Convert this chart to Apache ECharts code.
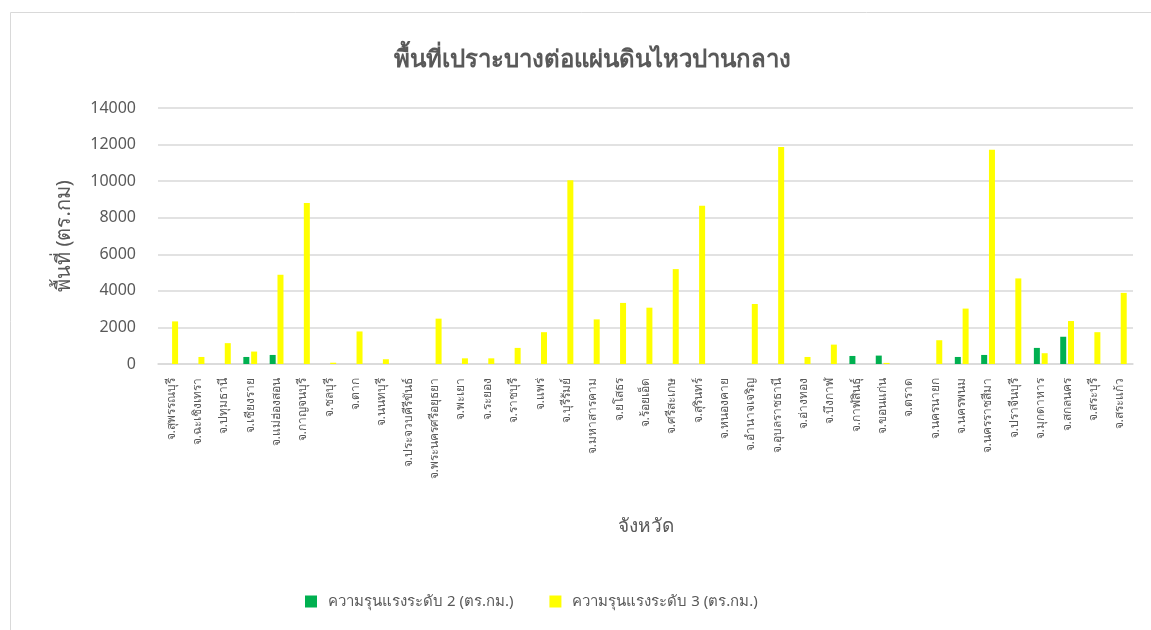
<!DOCTYPE html>
<html>
<head>
<meta charset="utf-8">
<script src="https://cdn.jsdelivr.net/npm/echarts@6/dist/echarts.min.js"></script>
<style>
  html, body { margin: 0; padding: 0; background: #fff; }
  #chart { width: 1151px; height: 630px; }
</style>
</head>
<body>
<div id="chart"></div>
<script>
// provinces (x axis)
const provinces = [
  "จ.สุพรรณบุรี", "จ.ฉะเชิงเทรา", "จ.ปทุมธานี", "จ.เชียงราย", "จ.แม่ฮ่องสอน",
  "จ.กาญจนบุรี", "จ.ชลบุรี", "จ.ตาก", "จ.นนทบุรี", "จ.ประจวบคีรีขันธ์",
  "จ.พระนครศรีอยุธยา", "จ.พะเยา", "จ.ระยอง", "จ.ราชบุรี", "จ.แพร่",
  "จ.บุรีรัมย์", "จ.มหาสารคาม", "จ.ยโสธร", "จ.ร้อยเอ็ด", "จ.ศรีสะเกษ",
  "จ.สุรินทร์", "จ.หนองคาย", "จ.อำนาจเจริญ", "จ.อุบลราชธานี", "จ.อ่างทอง",
  "จ.บึงกาฬ", "จ.กาฬสินธุ์", "จ.ขอนแก่น", "จ.ตราด", "จ.นครนายก",
  "จ.นครพนม", "จ.นครราชสีมา", "จ.ปราจีนบุรี", "จ.มุกดาหาร", "จ.สกลนคร",
  "จ.สระบุรี", "จ.สระแก้ว"
];

// severity level 2 (sq. km)
const level2 = [
  0, 0, 0, 385, 495,
  0, 0, 0, 0, 0,
  0, 0, 0, 0, 0,
  0, 0, 0, 0, 0,
  0, 0, 0, 0, 0,
  0, 440, 460, 0, 0,
  385, 495, 0, 880, 1490,
  0, 0
];

// severity level 3 (sq. km)
const level3 = [
  2330, 385, 1140, 680, 4880,
  8810, 70, 1780, 260, 0,
  2480, 310, 310, 880, 1740,
  10050, 2440, 3340, 3080, 5190,
  8660, 0, 3280, 11870, 385,
  1060, 0, 60, 0, 1300,
  3030, 11710, 4680, 590, 2350,
  1740, 3890
];

const seriesNames = ["ความรุนแรงระดับ 2 (ตร.กม.)", "ความรุนแรงระดับ 3 (ตร.กม.)"];
const yTicks = { min: 0, max: 14000, interval: 2000 };

const FONT = "'Noto Sans', 'DejaVu Sans', sans-serif";
const TEXT = "#595959";

const chart = echarts.init(document.getElementById("chart"), null, { renderer: "canvas" });

chart.setOption({
  animation: false,
  textStyle: { fontFamily: FONT },
  title: {
    text: "พื้นที่เปราะบางต่อแผ่นดินไหวปานกลาง",
    left: 587,
    top: 43,
    textAlign: "center",
    textStyle: { fontSize: 24, fontWeight: "bold", color: TEXT, fontFamily: FONT },
  },
  graphic: [
    {
      type: "rect",
      shape: { x: 10.5, y: 12.5, width: 1160, height: 640 },
      style: { fill: "none", stroke: "#d9d9d9", lineWidth: 1 },
      silent: true,
    },
  ],
  legend: {
    left: 300,
    top: 589,
    icon: "rect",
    itemWidth: 12,
    itemHeight: 12,
    itemGap: 36,
    textStyle: { fontSize: 15, color: TEXT, fontFamily: FONT, padding: [0, 0, 0, 6] },
    data: seriesNames,
  },
  grid: { left: 158, right: 18, top: 108, bottom: 266 },
  xAxis: {
    type: "category",
    data: provinces,
    name: "จังหวัด",
    nameLocation: "middle",
    nameGap: 153,
    nameTextStyle: { fontSize: 19, color: TEXT, fontFamily: FONT },
    axisLine: { lineStyle: { color: "#d9d9d9", width: 1.5 } },
    axisTick: { show: false },
    axisLabel: {
      rotate: 90,
      interval: 0,
      fontSize: 12,
      color: TEXT,
      margin: 14,
      fontFamily: FONT,
    },
  },
  yAxis: {
    type: "value",
    min: yTicks.min,
    max: yTicks.max,
    interval: yTicks.interval,
    name: "พื้นที่ (ตร.กม)",
    nameLocation: "middle",
    nameGap: 84,
    nameTextStyle: { fontSize: 20, color: TEXT, fontFamily: FONT },
    axisLine: { show: false },
    axisTick: { show: false },
    axisLabel: {
      fontSize: 16,
      color: TEXT,
      margin: 22,
      fontFamily: FONT,
      formatter: (v) => String(v),
    },
    splitLine: { lineStyle: { color: "#d9d9d9", width: 1.5 } },
  },
  series: [
    {
      name: seriesNames[0],
      type: "bar",
      data: level2,
      barWidth: 6,
      barGap: "30%",
      itemStyle: { color: "#00B050" },
    },
    {
      name: seriesNames[1],
      type: "bar",
      data: level3,
      barWidth: 6,
      itemStyle: { color: "#FFFF00" },
    },
  ],
});
</script>
</body>
</html>
